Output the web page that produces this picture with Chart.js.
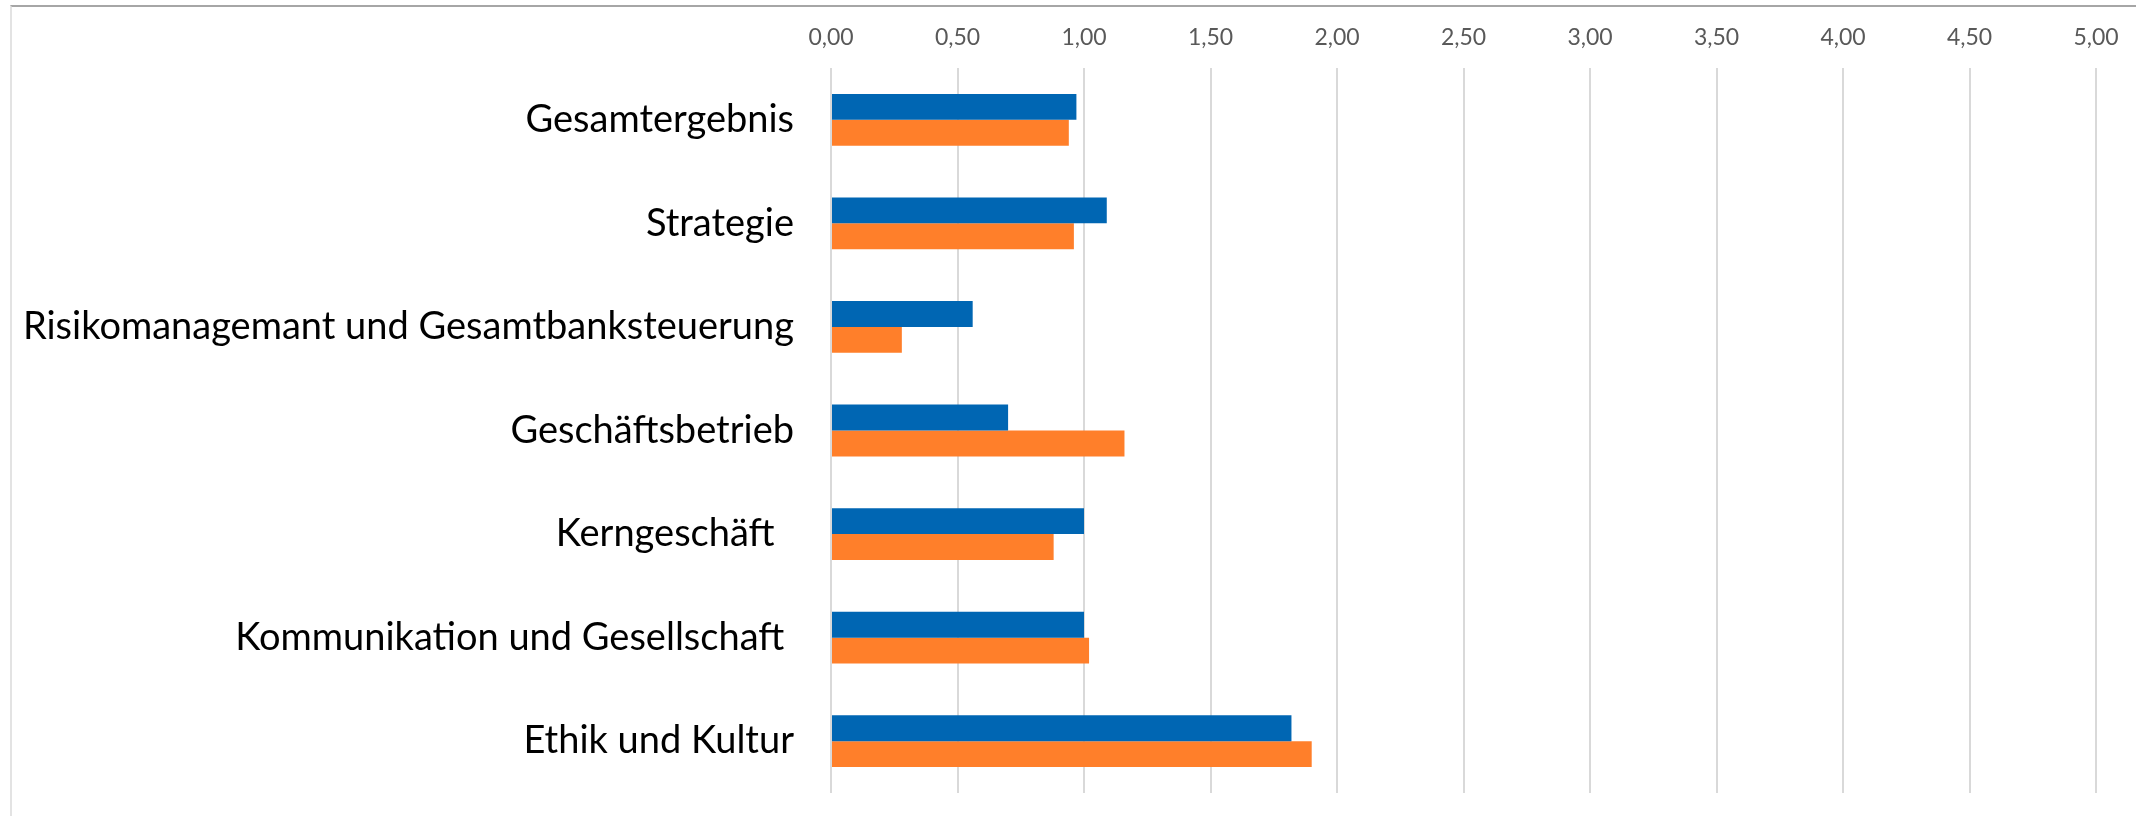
<!DOCTYPE html>
<html>
<head>
<meta charset="utf-8">
<script src="https://cdn.jsdelivr.net/npm/chart.js@4"></script>
<style>
  html, body { margin: 0; padding: 0; background: #fff; }
  #wrap { position: relative; width: 2136px; height: 816px; overflow: hidden; }
  #frame { position: absolute; left: 10px; top: 5px; right: -4px; bottom: -4px;
           border-top: 2px solid #a6a6a6; border-left: 2px solid #e3e3e3; }
  canvas { position: absolute; left: 0; top: 0; }
</style>
</head>
<body>
<div id="wrap">
  <div id="frame"></div>
  <canvas id="chart" width="2136" height="816"></canvas>
</div>
<script>
const categories = [
  'Gesamtergebnis',
  'Strategie',
  'Risikomanagemant und Gesamtbanksteuerung',
  'Geschäftsbetrieb',
  'Kerngeschäft  ',
  'Kommunikation und Gesellschaft ',
  'Ethik und Kultur'
];
const seriesBlue = [0.97, 1.09, 0.56, 0.70, 1.00, 1.00, 1.82];
const seriesOrange = [0.94, 0.96, 0.28, 1.16, 0.88, 1.02, 1.90];
const xMin = 0;
const xMax = 5;
const xStep = 0.5;

const ctx = document.getElementById('chart').getContext('2d');
const chart = new Chart(ctx, {
  type: 'bar',
  data: {
    labels: categories,
    datasets: [
      { label: 'A', data: seriesBlue, backgroundColor: '#0066b3' },
      { label: 'B', data: seriesOrange, backgroundColor: '#ff7f2a' }
    ]
  },
  options: {
    indexAxis: 'y',
    responsive: false,
    animation: false,
    categoryPercentage: 0.5,
    barPercentage: 1.0,
    layout: { padding: { top: 8, bottom: 23, right: 40, left: 0 } },
    plugins: { legend: { display: false }, tooltip: { enabled: false } },
    scales: {
      x: {
        position: 'top',
        min: xMin,
        max: xMax,
        ticks: {
          stepSize: xStep,
          padding: 17,
          color: '#595959',
          font: { family: 'Lato', size: 23 },
          callback: v => v.toFixed(2).replace('.', ',')
        },
        grid: { color: '#d9d9d9', lineWidth: 2, drawTicks: false },
        border: { display: false },
        afterFit: s => { s.height = 60; }
      },
      y: {
        ticks: {
          padding: 37,
          color: '#000000',
          font: { family: 'Lato', size: 38 }
        },
        grid: { display: false, drawTicks: false },
        border: { display: false },
        afterFit: s => { s.width = 831; s.paddingTop = 0; s.paddingBottom = 0; }
      }
    }
  }
});
</script>
</body>
</html>
